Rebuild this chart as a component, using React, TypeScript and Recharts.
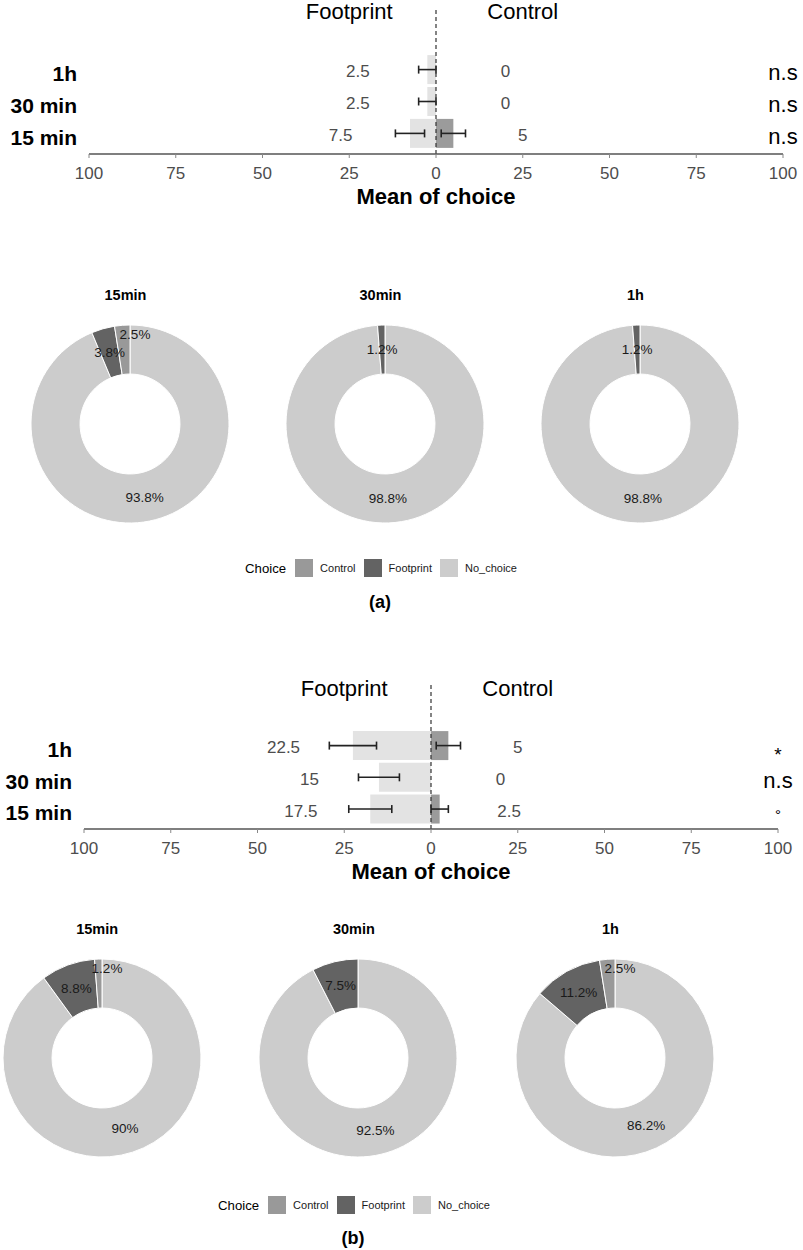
import React from 'react';
import {
  ComposedChart,
  Bar,
  XAxis,
  YAxis,
  ErrorBar,
  ReferenceLine,
  ReferenceDot,
  PieChart,
  Pie,
  Cell,
} from 'recharts';

// rows of the diverging bar charts, top to bottom
const TIMES = ['1h', '30 min', '15 min'];
const X_TICKS = [-100, -75, -50, -25, 0, 25, 50, 75, 100];

// panel (a)
const A_FOOTPRINT = [2.5, 2.5, 7.5];
const A_FOOTPRINT_SE = [2.5, 2.5, 4.2];
const A_CONTROL = [0, 0, 5];
const A_CONTROL_SE = [0, 0, 3.5];
const A_SIG = ['n.s', 'n.s', 'n.s'];

// panel (b)
const B_FOOTPRINT = [22.5, 15, 17.5];
const B_FOOTPRINT_SE = [6.8, 5.9, 6.2];
const B_CONTROL = [5, 0, 2.5];
const B_CONTROL_SE = [3.5, 0, 2.5];
const B_SIG = ['*', 'n.s', '°'];

// donuts (percent of choices)
const PIE_TITLES = ['15min', '30min', '1h'];
const CHOICES = ['No_choice', 'Footprint', 'Control'];
const LEGEND_ORDER = ['Control', 'Footprint', 'No_choice'];
const A_PIE_NO_CHOICE = [93.8, 98.8, 98.8];
const A_PIE_FOOTPRINT = [3.8, 1.2, 1.2];
const A_PIE_CONTROL = [2.5, 0, 0];
const B_PIE_NO_CHOICE = [90, 92.5, 86.2];
const B_PIE_FOOTPRINT = [8.8, 7.5, 11.2];
const B_PIE_CONTROL = [1.2, 0, 2.5];

const CHOICE_COLORS: Record<string, string> = {
  Control: '#999999',
  Footprint: '#636363',
  No_choice: '#cccccc',
};
const BAR_FOOTPRINT = '#e3e3e3';
const BAR_CONTROL = '#9b9b9b';
const LABEL_SHIFT = 20; // value labels sit 20 units past the bar
const FONT = '"Liberation Sans", Arial, sans-serif';
const RAD = Math.PI / 180;

const RowTick = (props: any) => (
  <text
    x={props.x}
    y={props.y}
    dy={4}
    textAnchor="end"
    dominantBaseline="central"
    fontSize={21}
    fontWeight="bold"
    fill="#000"
  >
    {props.payload.value}
  </text>
);

const textShape = (text: string, size: number, color: string, dy: number) => (p: any) => (
  <text x={p.cx} y={p.cy} dy={dy} textAnchor="middle" dominantBaseline="central" fontSize={size} fill={color}>
    {text}
  </text>
);

// single symbols (* and °) are drawn smaller, like the reference
const sigShape = (s: string) =>
  s.length === 1 ? textShape(s, s === '*' ? 19 : 15, '#000', s === '*' ? 9 : 5.6) : textShape(s, 22, '#000', 3);

interface DivergingProps {
  foot: number[];
  footSe: number[];
  ctrl: number[];
  ctrlSe: number[];
  sig: string[];
  yWidth: number;
  rightMargin: number;
  topMargin: number;
  height: number;
  padTop: number;
  padBottom: number;
}

const DivergingChart = ({
  foot,
  footSe,
  ctrl,
  ctrlSe,
  sig,
  yWidth,
  rightMargin,
  topMargin,
  height,
  padTop,
  padBottom,
}: DivergingProps) => {
  const data = TIMES.map((t, i) => ({
    time: t,
    footprint: -foot[i],
    footSe: footSe[i],
    control: ctrl[i],
    controlSe: ctrlSe[i],
  }));

  return (
    <ComposedChart
      width={803}
      height={height}
      data={data}
      layout="vertical"
      stackOffset="sign"
      barCategoryGap="5%"
      margin={{ top: topMargin, right: rightMargin, bottom: 0, left: 0 }}
    >
      <XAxis
        type="number"
        domain={[-100, 100]}
        ticks={X_TICKS}
        tickFormatter={(v: number) => String(Math.abs(v))}
        height={61}
        axisLine={{ stroke: '#555', strokeWidth: 1.6 }}
        tickLine={{ stroke: '#888' }}
        tickSize={4}
        tickMargin={9}
        tick={{ fill: '#4d4d4d', fontSize: 17 }}
        label={{ value: 'Mean of choice', position: 'insideBottom', offset: 11, fill: '#000', fontSize: 22, fontWeight: 'bold' }}
      />
      <YAxis
        type="category"
        dataKey="time"
        width={yWidth}
        axisLine={false}
        tickLine={false}
        tickSize={0}
        tickMargin={12}
        tick={<RowTick />}
        padding={{ top: padTop, bottom: padBottom }}
      />
      <Bar dataKey="footprint" stackId="s" fill={BAR_FOOTPRINT} isAnimationActive={false}>
        <ErrorBar dataKey="footSe" direction="x" width={4} stroke="#222" strokeWidth={1.6} />
      </Bar>
      <Bar dataKey="control" stackId="s" fill={BAR_CONTROL} isAnimationActive={false}>
        <ErrorBar dataKey="controlSe" direction="x" width={4} stroke="#222" strokeWidth={1.6} />
      </Bar>
      <ReferenceLine x={0} stroke="#333" strokeWidth={1.2} strokeDasharray="4 3" />
      <ReferenceLine
        x={-25}
        stroke="none"
        label={{ value: 'Footprint', position: 'insideTop', offset: -5, fill: '#000', fontSize: 22 }}
      />
      <ReferenceLine
        x={25}
        stroke="none"
        label={{ value: 'Control', position: 'insideTop', offset: -5, fill: '#000', fontSize: 22 }}
      />
      {TIMES.map((t, i) => (
        <ReferenceDot
          key={'f' + t}
          x={-(foot[i] + LABEL_SHIFT)}
          y={t}
          r={0}
          ifOverflow="visible"
          shape={textShape(String(foot[i]), 17, '#4d4d4d', 2.5)}
        />
      ))}
      {TIMES.map((t, i) => (
        <ReferenceDot
          key={'c' + t}
          x={ctrl[i] + LABEL_SHIFT}
          y={t}
          r={0}
          ifOverflow="visible"
          shape={textShape(String(ctrl[i]), 17, '#4d4d4d', 2.5)}
        />
      ))}
      {TIMES.map((t, i) => (
        <ReferenceDot key={'s' + t} x={100} y={t} r={0} ifOverflow="visible" shape={sigShape(sig[i])} />
      ))}
    </ComposedChart>
  );
};

const renderPct = (p: any) => {
  const name = (p.payload && p.payload.name) || p.name;
  let x: number;
  let y: number;
  if (name === 'Control') {
    x = p.cx + 5;
    y = p.cy - p.outerRadius + 9;
  } else {
    const r = (p.innerRadius + p.outerRadius) / 2;
    x = p.cx + r * Math.cos(-p.midAngle * RAD);
    y = p.cy + r * Math.sin(-p.midAngle * RAD);
  }
  return (
    <text x={x} y={y} textAnchor="middle" dominantBaseline="central" fontSize={13.5} fill="#1a1a1a">
      {`${p.value}%`}
    </text>
  );
};

const Donut = ({ title, values }: { title: string; values: number[] }) => {
  const data = CHOICES.map((c, i) => ({ name: c, value: values[i] })).filter((d) => d.value > 0);
  return (
    <div style={{ position: 'relative', width: 200 }}>
      <div style={{ textAlign: 'center', fontWeight: 'bold', fontSize: 14.5, lineHeight: '20px', marginRight: 9 }}>{title}</div>
      <div style={{ height: 19 }} />
      <PieChart width={200} height={200} margin={{ top: 0, right: 0, bottom: 0, left: 0 }}>
        <Pie
          data={data}
          dataKey="value"
          nameKey="name"
          cx={100}
          cy={100}
          innerRadius={50}
          outerRadius={99}
          startAngle={90}
          endAngle={-270}
          stroke="#fff"
          strokeWidth={1}
          labelLine={false}
          label={renderPct}
          isAnimationActive={false}
        >
          {data.map((d) => (
            <Cell key={d.name} fill={CHOICE_COLORS[d.name]} />
          ))}
        </Pie>
      </PieChart>
    </div>
  );
};

const ChoiceLegend = () => (
  <div style={{ display: 'flex', alignItems: 'center' }}>
    <span style={{ fontSize: 13.2, color: '#000', marginRight: 9 }}>Choice</span>
    {LEGEND_ORDER.map((c) => (
      <span key={c} style={{ display: 'flex', alignItems: 'center', marginRight: 8 }}>
        <span style={{ width: 18, height: 18, background: CHOICE_COLORS[c], display: 'inline-block', marginRight: 7 }} />
        <span style={{ fontSize: 11, color: '#1a1a1a' }}>{c}</span>
      </span>
    ))}
  </div>
);

const DonutRow = ({
  top,
  centers,
  noChoice,
  footprint,
  control,
}: {
  top: number;
  centers: number[];
  noChoice: number[];
  footprint: number[];
  control: number[];
}) => (
  <>
    {PIE_TITLES.map((t, i) => (
      <div key={t} style={{ position: 'absolute', top, left: centers[i] - 100 }}>
        <Donut title={t} values={[noChoice[i], footprint[i], control[i]]} />
      </div>
    ))}
  </>
);

const App = () => (
  <div style={{ position: 'relative', width: 803, height: 1250, fontFamily: FONT, background: '#fff', overflow: 'hidden' }}>
    <style>{'body{margin:0}'}</style>
    <div style={{ position: 'absolute', top: 0, left: 0 }}>
      <DivergingChart
        foot={A_FOOTPRINT}
        footSe={A_FOOTPRINT_SE}
        ctrl={A_CONTROL}
        ctrlSe={A_CONTROL_SE}
        sig={A_SIG}
        yWidth={89}
        rightMargin={20}
        topMargin={8}
        height={215}
        padTop={45.5}
        padBottom={4.8}
      />
    </div>
    <DonutRow top={285} centers={[130, 385, 640]} noChoice={A_PIE_NO_CHOICE} footprint={A_PIE_FOOTPRINT} control={A_PIE_CONTROL} />
    <div style={{ position: 'absolute', top: 559, left: 0, width: 770, display: 'flex', justifyContent: 'center' }}>
      <ChoiceLegend />
    </div>
    <div style={{ position: 'absolute', top: 591, left: 0, width: 760, textAlign: 'center', fontWeight: 'bold', fontSize: 18, lineHeight: '22px' }}>
      (a)
    </div>

    <div style={{ position: 'absolute', top: 669, left: 0 }}>
      <DivergingChart
        foot={B_FOOTPRINT}
        footSe={B_FOOTPRINT_SE}
        ctrl={B_CONTROL}
        ctrlSe={B_CONTROL_SE}
        sig={B_SIG}
        yWidth={84}
        rightMargin={25}
        topMargin={16}
        height={221}
        padTop={44.5}
        padBottom={4.3}
      />
    </div>
    <DonutRow top={919} centers={[101.6, 358.4, 615]} noChoice={B_PIE_NO_CHOICE} footprint={B_PIE_FOOTPRINT} control={B_PIE_CONTROL} />
    <div style={{ position: 'absolute', top: 1196, left: 0, width: 716, display: 'flex', justifyContent: 'center' }}>
      <ChoiceLegend />
    </div>
    <div style={{ position: 'absolute', top: 1227, left: 0, width: 706, textAlign: 'center', fontWeight: 'bold', fontSize: 18, lineHeight: '22px' }}>
      (b)
    </div>
  </div>
);

export default App;
